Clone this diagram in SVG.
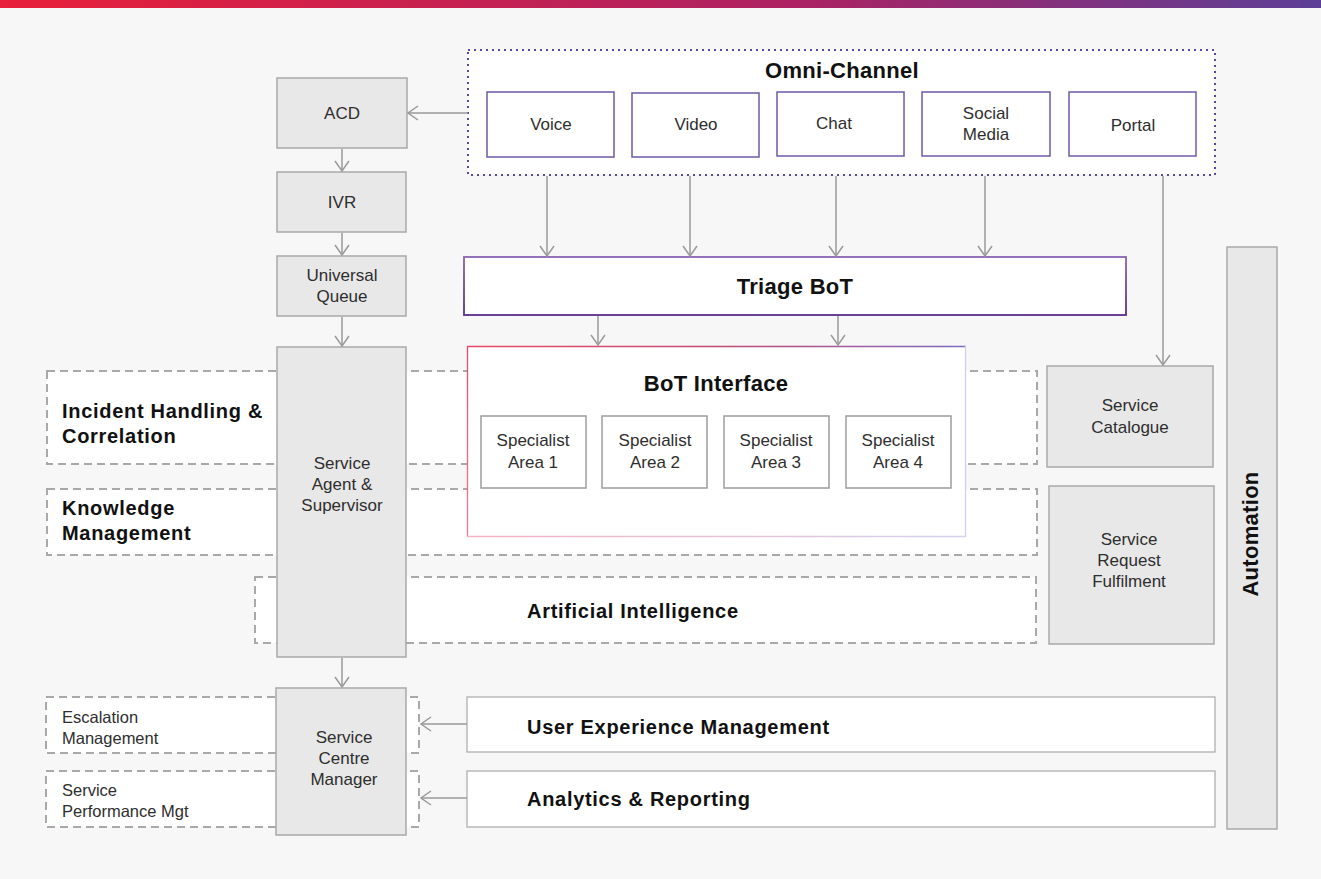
<svg xmlns="http://www.w3.org/2000/svg" width="1321" height="879" viewBox="0 0 1321 879">
  <defs>
    <linearGradient id="topBar" x1="0" y1="0" x2="1" y2="0">
      <stop offset="0" stop-color="#e8203a"/>
      <stop offset="0.6" stop-color="#ad2262"/>
      <stop offset="1" stop-color="#5b3f96"/>
    </linearGradient>
    <linearGradient id="triageStroke" x1="0" y1="0" x2="0" y2="1">
      <stop offset="0" stop-color="#8a62b4"/>
      <stop offset="1" stop-color="#5a2d8a"/>
    </linearGradient>
    <linearGradient id="botTop" gradientUnits="userSpaceOnUse" x1="467" y1="0" x2="965" y2="0">
      <stop offset="0" stop-color="#e84a66"/>
      <stop offset="0.55" stop-color="#c04a78"/>
      <stop offset="1" stop-color="#7b6cc2"/>
    </linearGradient>
    <linearGradient id="botBottom" gradientUnits="userSpaceOnUse" x1="467" y1="0" x2="965" y2="0">
      <stop offset="0" stop-color="#f5b3c2"/>
      <stop offset="1" stop-color="#d6d3ee"/>
    </linearGradient>
    <linearGradient id="botLeft" gradientUnits="userSpaceOnUse" x1="0" y1="346" x2="0" y2="537">
      <stop offset="0" stop-color="#e84a66"/>
      <stop offset="1" stop-color="#f07a90"/>
    </linearGradient>
    <marker id="arrow" markerUnits="userSpaceOnUse" markerWidth="14" markerHeight="18" refX="11" refY="8" orient="auto">
      <path d="M1,1 L11,8 L1,15" fill="none" stroke="#9a9a9a" stroke-width="1.5"/>
    </marker>
  </defs>
  <style>
    .grey { fill: #e8e8e8; stroke: #a9a9a9; stroke-width: 1.5; }
    .chan { fill: #ffffff; stroke: #6e5aa8; stroke-width: 1.5; }
    .spec { fill: #ffffff; stroke: #9d9d9d; stroke-width: 1.5; }
    .plain { fill: #ffffff; stroke: #a9a9a9; stroke-width: 1.2; }
    .dash { fill: #ffffff; stroke: #a9a9a9; stroke-width: 2; stroke-dasharray: 8 5; }
    .dots { fill: #ffffff; stroke: #5b46a6; stroke-width: 2; stroke-dasharray: 2 4; }
    .link { fill: none; stroke: #9a9a9a; stroke-width: 1.5; marker-end: url(#arrow); }
    text { font-family: "Liberation Sans", Arial, Helvetica, sans-serif; }
    .lbl { font-size: 17px; fill: #2e2e2e; text-anchor: middle; }
    .sm { font-size: 16.5px; fill: #2e2e2e; }
    .hd { font-size: 20px; font-weight: bold; fill: #111111; letter-spacing: 0.7px; }
    .big { font-size: 22px; font-weight: bold; fill: #111111; text-anchor: middle; letter-spacing: 0.3px; }
  </style>

  <!-- page background and header strip -->
  <rect x="0" y="0" width="1321" height="879" fill="#f7f7f7"/>
  <rect x="0" y="0" width="1321" height="8" fill="url(#topBar)"/>

  <!-- lane backgrounds (dashed) -->
  <g id="incident-handling">
    <rect class="dash" x="47" y="371" width="990" height="93"/>
    <text class="hd" x="62" y="418">Incident Handling &amp;</text>
    <text class="hd" x="62" y="443">Correlation</text>
  </g>
  <g id="knowledge-management">
    <rect class="dash" x="47" y="489" width="990" height="66"/>
    <text class="hd" x="62" y="515">Knowledge</text>
    <text class="hd" x="62" y="540">Management</text>
  </g>
  <g id="artificial-intelligence">
    <rect class="dash" x="255" y="577" width="781" height="66"/>
    <text class="hd" x="527" y="618">Artificial Intelligence</text>
  </g>
  <g id="escalation-management">
    <rect class="dash" x="46" y="697" width="373" height="56"/>
    <text class="sm" x="62" y="723">Escalation</text>
    <text class="sm" x="62" y="744">Management</text>
  </g>
  <g id="service-performance">
    <rect class="dash" x="46" y="771" width="373" height="56"/>
    <text class="sm" x="62" y="796">Service</text>
    <text class="sm" x="62" y="817">Performance Mgt</text>
  </g>

  <!-- omni-channel container -->
  <g id="omni-channel">
    <rect class="dots" x="468" y="50" width="747" height="125"/>
    <text class="big" x="842" y="78">Omni-Channel</text>
  </g>
  <g id="voice">
    <rect class="chan" x="487" y="92" width="127" height="65"/>
    <text class="lbl" x="551" y="130">Voice</text>
  </g>
  <g id="video">
    <rect class="chan" x="632" y="93" width="127" height="64"/>
    <text class="lbl" x="696" y="130">Video</text>
  </g>
  <g id="chat">
    <rect class="chan" x="777" y="92" width="127" height="64"/>
    <text class="lbl" x="834" y="129">Chat</text>
  </g>
  <g id="social-media">
    <rect class="chan" x="922" y="92" width="128" height="64"/>
    <text class="lbl" x="986" y="119">Social</text>
    <text class="lbl" x="986" y="140">Media</text>
  </g>
  <g id="portal">
    <rect class="chan" x="1069" y="92" width="127" height="64"/>
    <text class="lbl" x="1133" y="131">Portal</text>
  </g>

  <!-- left column -->
  <g id="acd">
    <rect class="grey" x="277" y="78" width="130" height="70"/>
    <text class="lbl" x="342" y="119">ACD</text>
  </g>
  <g id="ivr">
    <rect class="grey" x="277" y="172" width="129" height="60"/>
    <text class="lbl" x="342" y="208">IVR</text>
  </g>
  <g id="universal-queue">
    <rect class="grey" x="277" y="256" width="129" height="60"/>
    <text class="lbl" x="342" y="281">Universal</text>
    <text class="lbl" x="342" y="302">Queue</text>
  </g>
  <g id="service-agent">
    <rect class="grey" x="277" y="347" width="129" height="310"/>
    <text class="lbl" x="342" y="469">Service</text>
    <text class="lbl" x="342" y="490">Agent &amp;</text>
    <text class="lbl" x="342" y="511">Supervisor</text>
  </g>
  <g id="service-centre-manager">
    <rect class="grey" x="276" y="688" width="130" height="147"/>
    <text class="lbl" x="344" y="743">Service</text>
    <text class="lbl" x="344" y="764">Centre</text>
    <text class="lbl" x="344" y="785">Manager</text>
  </g>

  <!-- bots -->
  <g id="triage-bot">
    <rect x="464" y="257" width="662" height="58" fill="#ffffff" stroke="url(#triageStroke)" stroke-width="1.8"/>
    <text class="big" x="795" y="294">Triage BoT</text>
  </g>
  <g id="bot-interface">
    <rect x="467" y="346" width="498" height="191" fill="#ffffff"/>
    <line x1="467" y1="346.5" x2="966" y2="346.5" stroke="url(#botTop)" stroke-width="1.3"/>
    <line x1="467.5" y1="346" x2="467.5" y2="537" stroke="url(#botLeft)" stroke-width="1.3"/>
    <line x1="467" y1="536.5" x2="966" y2="536.5" stroke="url(#botBottom)" stroke-width="1.3"/>
    <line x1="965.5" y1="346" x2="965.5" y2="537" stroke="#d4d0ec" stroke-width="1.3"/>
    <text class="big" x="716" y="391">BoT Interface</text>
  </g>
  <g id="specialist-1">
    <rect class="spec" x="481" y="416" width="105" height="72"/>
    <text class="lbl" x="533" y="446">Specialist</text>
    <text class="lbl" x="533" y="468">Area 1</text>
  </g>
  <g id="specialist-2">
    <rect class="spec" x="602" y="416" width="105" height="72"/>
    <text class="lbl" x="655" y="446">Specialist</text>
    <text class="lbl" x="655" y="468">Area 2</text>
  </g>
  <g id="specialist-3">
    <rect class="spec" x="724" y="416" width="105" height="72"/>
    <text class="lbl" x="776" y="446">Specialist</text>
    <text class="lbl" x="776" y="468">Area 3</text>
  </g>
  <g id="specialist-4">
    <rect class="spec" x="846" y="416" width="105" height="72"/>
    <text class="lbl" x="898" y="446">Specialist</text>
    <text class="lbl" x="898" y="468">Area 4</text>
  </g>

  <!-- right column -->
  <g id="service-catalogue">
    <rect class="grey" x="1047" y="366" width="166" height="101"/>
    <text class="lbl" x="1130" y="411">Service</text>
    <text class="lbl" x="1130" y="433">Catalogue</text>
  </g>
  <g id="service-request-fulfilment">
    <rect class="grey" x="1049" y="486" width="165" height="158"/>
    <text class="lbl" x="1129" y="545">Service</text>
    <text class="lbl" x="1129" y="566">Request</text>
    <text class="lbl" x="1129" y="587">Fulfilment</text>
  </g>
  <g id="automation">
    <rect class="grey" x="1227" y="247" width="50" height="582"/>
    <text class="big" x="0" y="0" transform="translate(1258,534) rotate(-90)">Automation</text>
  </g>

  <!-- management bars -->
  <g id="user-experience">
    <rect class="plain" x="467" y="697" width="748" height="55"/>
    <text class="hd" x="527" y="734">User Experience Management</text>
  </g>
  <g id="analytics-reporting">
    <rect class="plain" x="467" y="771" width="748" height="56"/>
    <text class="hd" x="527" y="806">Analytics &amp; Reporting</text>
  </g>

  <!-- connectors -->
  <g id="connectors">
    <line class="link" x1="468" y1="113" x2="408" y2="113"/>
    <line class="link" x1="342" y1="149" x2="342" y2="171"/>
    <line class="link" x1="342" y1="233" x2="342" y2="255"/>
    <line class="link" x1="342" y1="317" x2="342" y2="346"/>
    <line class="link" x1="342" y1="658" x2="342" y2="687"/>
    <line class="link" x1="547" y1="176" x2="547" y2="256"/>
    <line class="link" x1="690" y1="176" x2="690" y2="256"/>
    <line class="link" x1="836" y1="176" x2="836" y2="256"/>
    <line class="link" x1="985" y1="176" x2="985" y2="256"/>
    <line class="link" x1="1163" y1="176" x2="1163" y2="365"/>
    <line class="link" x1="598" y1="316" x2="598" y2="345"/>
    <line class="link" x1="838" y1="316" x2="838" y2="345"/>
    <line class="link" x1="467" y1="724" x2="421" y2="724"/>
    <line class="link" x1="467" y1="798" x2="421" y2="798"/>
  </g>
</svg>
